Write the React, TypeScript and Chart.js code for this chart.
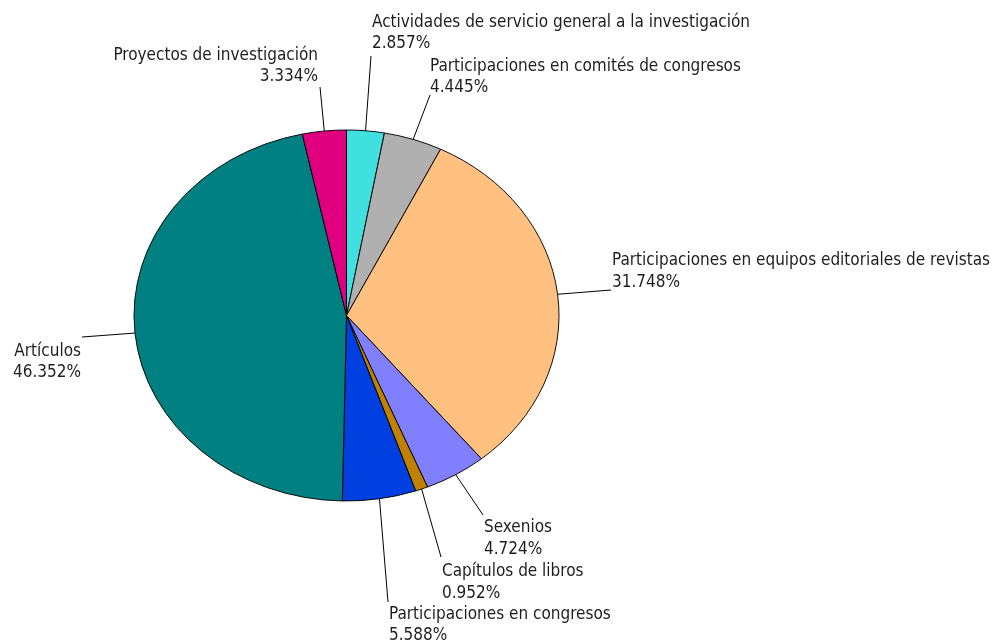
import React, { useEffect, useRef } from 'react';
import { Chart, registerables } from 'chart.js';

Chart.register(...registerables);

const categories = [
  'Actividades de servicio general a la investigación',
  'Participaciones en comités de congresos',
  'Participaciones en equipos editoriales de revistas',
  'Sexenios',
  'Capítulos de libros',
  'Participaciones en congresos',
  'Artículos',
  'Proyectos de investigación',
];

const percentages = [2.857, 4.445, 31.748, 4.724, 0.952, 5.588, 46.352, 3.334];

const sliceColors = ['#40E0E0', '#B0B0B0', '#FFC080', '#8080FF', '#C08000', '#0040E0', '#008080', '#E0007F'];

// Label layout: leader-line end point, text x, alignment, two baselines
const labelLayout = [
  { lx: 371, ly: 56, tx: 372, align: 'left', y1: 27, y2: 48 },
  { lx: 430, ly: 95, tx: 430, align: 'left', y1: 71, y2: 92 },
  { lx: 611, ly: 290, tx: 612, align: 'left', y1: 265, y2: 287 },
  { lx: 483, ly: 515, tx: 484, align: 'left', y1: 532, y2: 554 },
  { lx: 441, ly: 557, tx: 442, align: 'left', y1: 576, y2: 598 },
  { lx: 388, ly: 602, tx: 389, align: 'left', y1: 619, y2: 640 },
  { lx: 82, ly: 337, tx: 81, align: 'right', y1: 356, y2: 377 },
  { lx: 320, ly: 87, tx: 318, align: 'right', y1: 60, y2: 81 },
];

const W = 1003;
const H = 643;
const RADIUS_X = 212.5;
const Y_SCALE = 185.5 / 212.5;

function pickFont(): string {
  const c = document.createElement('canvas');
  const ctx = c.getContext('2d')!;
  ctx.font = '40px monospace';
  const base = ctx.measureText('Participaciones abcdefg').width;
  ctx.font = '40px "DejaVu Sans Condensed", monospace';
  const cond = ctx.measureText('Participaciones abcdefg').width;
  const family = Math.abs(cond - base) > 0.5 ? '"DejaVu Sans Condensed"' : '"DejaVu Sans"';
  ctx.font = `15px ${family}`;
  const w = ctx.measureText(categories[2]).width;
  const size = Math.max(11, Math.min(17, (15 * 388) / w));
  return `${size.toFixed(2)}px ${family}`;
}

export default function App() {
  const ref = useRef<HTMLCanvasElement | null>(null);

  useEffect(() => {
    const canvas = ref.current;
    if (!canvas) return;
    const font = pickFont();

    const ellipsePlugin = {
      id: 'ellipse',
      beforeDatasetsDraw(chart: any) {
        const arc = chart.getDatasetMeta(0).data[0];
        const ctx = chart.ctx;
        ctx.save();
        ctx.translate(arc.x, arc.y);
        ctx.scale(1, Y_SCALE);
        ctx.translate(-arc.x, -arc.y);
      },
      afterDatasetsDraw(chart: any) {
        chart.ctx.restore();
      },
    };

    const labelPlugin = {
      id: 'pieLabels',
      afterDraw(chart: any) {
        const ctx = chart.ctx;
        const meta = chart.getDatasetMeta(0);
        ctx.save();
        ctx.font = font;
        ctx.fillStyle = '#1e1e1e';
        ctx.strokeStyle = '#000';
        ctx.lineWidth = 1;
        meta.data.forEach((arc: any, i: number) => {
          const p = arc.getProps(['x', 'y', 'startAngle', 'endAngle', 'outerRadius'], true);
          const mid = (p.startAngle + p.endAngle) / 2;
          const ex = p.x + Math.cos(mid) * p.outerRadius;
          const ey = p.y + Math.sin(mid) * p.outerRadius * Y_SCALE;
          const L = labelLayout[i];
          ctx.beginPath();
          ctx.moveTo(ex, ey);
          ctx.lineTo(L.lx, L.ly);
          ctx.stroke();
          ctx.textAlign = L.align;
          ctx.textBaseline = 'alphabetic';
          ctx.fillText(categories[i], L.tx, L.y1);
          ctx.fillText(percentages[i].toFixed(3) + '%', L.tx, L.y2);
        });
        ctx.restore();
      },
    };

    const chart = new Chart(canvas, {
      type: 'pie',
      data: {
        labels: categories,
        datasets: [
          {
            data: percentages,
            backgroundColor: sliceColors,
            borderColor: '#000',
            borderWidth: 1,
          },
        ],
      },
      options: {
        responsive: false,
        animation: false,
        devicePixelRatio: 1,
        radius: RADIUS_X,
        layout: { padding: { left: 0, right: 310, top: 0, bottom: 12 } },
        plugins: {
          legend: { display: false },
          tooltip: { enabled: false },
        },
        events: [],
      } as any,
      plugins: [ellipsePlugin, labelPlugin],
    });
    return () => chart.destroy();
  }, []);

  return (
    <div style={{ position: 'absolute', left: 0, top: 0, width: W, height: H, background: '#fff' }}>
      <canvas ref={ref} width={W} height={H} style={{ width: W, height: H, display: 'block' }} />
    </div>
  );
}
